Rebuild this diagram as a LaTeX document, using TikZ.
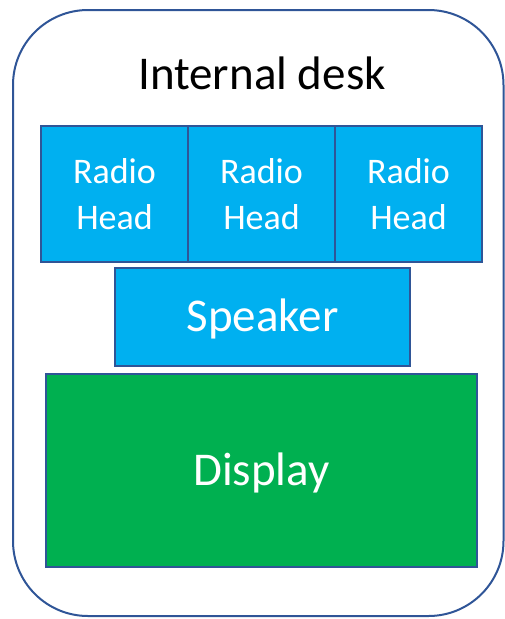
\documentclass[tikz,border=0pt]{standalone}
\usepackage{fontspec}
\setmainfont{Carlito}
\definecolor{bord}{HTML}{2F5597}
\definecolor{cyanb}{HTML}{00B0F0}
\definecolor{greenb}{HTML}{00B050}
\tikzset{
  blk/.style={draw=bord, line width=2pt, text=white, inner sep=0pt},
  big/.style={font=\fontsize{47}{56}\selectfont, text height=30pt, text depth=0pt},
  rh/.style={blk, fill=cyanb, minimum width=147pt, minimum height=136pt, align=center, font=\fontsize{36}{45.5}\selectfont},
}
\begin{document}
\begin{tikzpicture}[x=1pt,y=-1pt]
\useasboundingbox (0,0) rectangle (505,619);
\draw[bord, line width=2pt, rounded corners=75pt] (13,10) rectangle (503.5,616);
\node[font=\fontsize{47}{56}\selectfont, anchor=base] (title) at (262,89) {Internal desk};
\node[rh] (r1) at (114.5,194) {Radio\\Head};
\node[rh] (r2) at (261.5,194) {Radio\\Head};
\node[rh] (r3) at (408.5,194) {Radio\\Head};
\node[blk, big, fill=cyanb, minimum width=295pt, minimum height=98pt] (spk) at (262.5,316.5) {Speaker};
\node[blk, big, fill=greenb, minimum width=431pt, minimum height=193pt] (disp) at (261.5,470.5) {Display};
\end{tikzpicture}
\end{document}
